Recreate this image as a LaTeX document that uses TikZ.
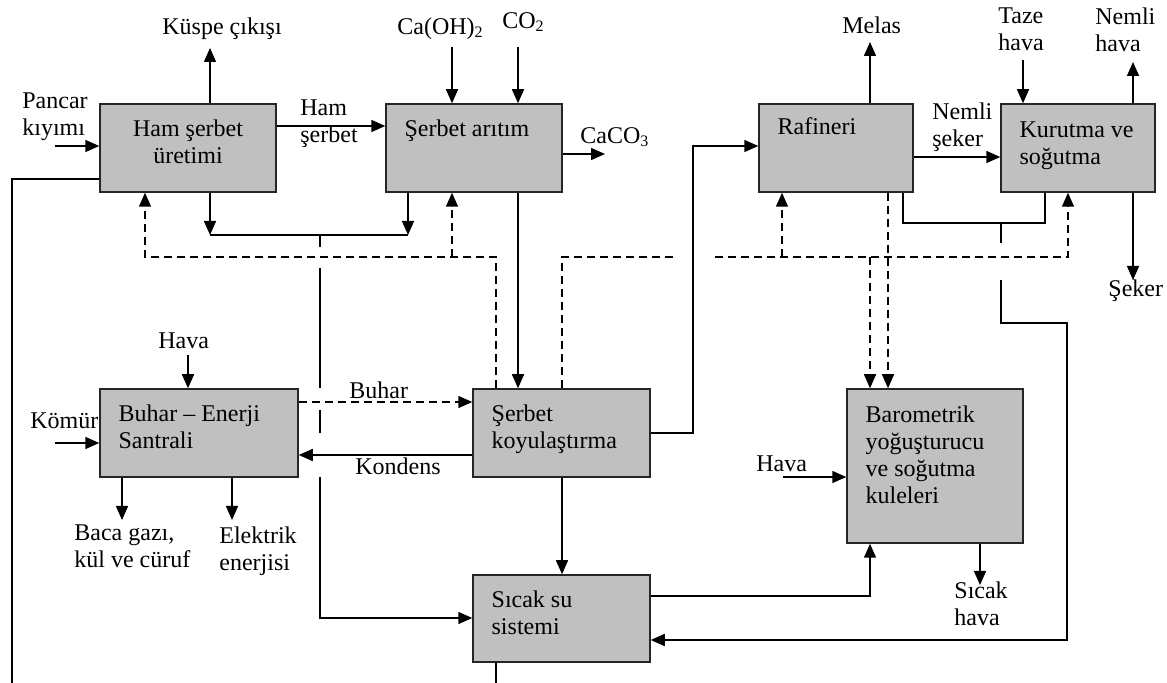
\documentclass[tikz,border=0pt]{standalone}
\usepackage{fontspec}
\setmainfont{Liberation Serif}
\usetikzlibrary{arrows.meta}
\definecolor{boxGray}{HTML}{C0C0C0}
\newcommand{\lineW}{0.75pt}
\tikzset{
  proc/.style={draw=black!85, fill=boxGray, line width=\lineW, inner sep=0pt},
  inLabel/.style={anchor=north west, inner sep=0pt, align=left, xshift=9.5pt, yshift=-8pt},
  txt/.style={anchor=north west, inner sep=0pt, align=left},
  flow/.style={line width=\lineW},
  arr/.style={line width=\lineW, -{Triangle[length=7pt,width=6pt]}},
  steam/.style={line width=\lineW, dash pattern=on 4pt off 2.5pt},
  steamArr/.style={steam, -{Triangle[length=7pt,width=6pt]}},
}

\begin{document}
\begin{tikzpicture}[x=0.5pt, y=-0.5pt, font=\fontsize{12}{13.5}\selectfont]
\useasboundingbox (0,0) rectangle (1167,683);

% process boxes
\node[proc, minimum width=88pt, minimum height=44pt,
  label={[inLabel, anchor=north, xshift=-9.5pt, align=center]north:{Ham şerbet\\üretimi}}] (hamSerbet) at (188,148) {};
\node[proc, minimum width=88pt, minimum height=44pt,
  label={[inLabel]north west:{Şerbet arıtım}}] (aritim) at (474,148) {};
\node[proc, minimum width=77pt, minimum height=44pt,
  label={[inLabel, yshift=1pt]north west:{Rafineri}}] (rafineri) at (836,148) {};
\node[proc, minimum width=77pt, minimum height=44pt,
  label={[inLabel, yshift=-1pt]north west:{Kurutma ve\\soğutma}}] (kurutma) at (1078,148) {};
\node[proc, minimum width=99pt, minimum height=44pt,
  label={[inLabel]north west:{Buhar -- Enerji\\Santrali}}] (santral) at (199,433) {};
\node[proc, minimum width=88.5pt, minimum height=44pt,
  label={[inLabel]north west:{Şerbet\\koyulaştırma}}] (koyulastirma) at (561.5,433) {};
\node[proc, minimum width=88.5pt, minimum height=43.5pt,
  label={[inLabel]north west:{Sıcak su\\sistemi}}] (sicakSu) at (561.5,618.5) {};
\node[proc, minimum width=88pt, minimum height=77pt,
  label={[inLabel, yshift=-0.5pt]north west:{Barometrik\\yoğuşturucu\\ve soğutma\\kuleleri}}] (barometrik) at (935,466) {};

% stream labels
\node[txt] (kuspe) at (162,17) {Küspe çıkışı};
\node[txt] (pancar) at (22,92) {Pancar\\kıyımı};
\node[txt] (hamLbl) at (300,99) {Ham\\şerbet};
\node[txt] (caoh) at (397,17) {Ca(OH)\textsubscript{2}};
\node[txt] (coIki) at (502,12) {CO\textsubscript{2}};
\node[txt] (caco) at (580,127) {CaCO\textsubscript{3}};
\node[txt] (melas) at (842,16) {Melas};
\node[txt] (tazeHava) at (998,7) {Taze\\hava};
\node[txt] (nemliHava) at (1095,7) {Nemli\\hava};
\node[txt] (nemliSeker) at (932,102) {Nemli\\şeker};
\node[txt] (seker) at (1108,279) {Şeker};
\node[txt] (havaSantral) at (158,332) {Hava};
\node[txt] (komur) at (30,412) {Kömür};
\node[txt] (buhar) at (349,381) {Buhar};
\node[txt] (kondens) at (355,457) {Kondens};
\node[txt] (baca) at (74,524) {Baca gazı,\\kül ve cüruf};
\node[txt] (elektrik) at (219,526) {Elektrik\\enerjisi};
\node[txt] (havaBaro) at (756,455) {Hava};
\node[txt] (sicakHava) at (954,581) {Sıcak\\hava};

% solid streams, top row
\draw[arr] (hamSerbet.north -| 210,0) -- (210,48);
\draw[arr] (55,146) -- (hamSerbet.west |- 0,146);
\draw[arr] (hamSerbet.east |- 0,126) -- (aritim.west |- 0,126);
\draw[arr] (452,47) -- (aritim.north -| 452,0);
\draw[arr] (518,47) -- (aritim.north -| 518,0);
\draw[arr] (aritim.east |- 0,154) -- (605,154);
\draw[arr] (hamSerbet.south -| 210,0) -- (210,235);
\draw[arr] (aritim.south -| 408,0) -- (408,235);
\draw[flow] (210,235) -- (408,235);
\draw[arr] (320,235) -- (320,247) (320,268) -- (320,388) (320,410) -- (320,433)
  (320,477) -- (320,618) -- (sicakSu.west |- 0,618);
\draw[flow] (hamSerbet.west |- 0,179) -- (12,179) -- (12,683);
\draw[arr] (aritim.south -| 518,0) -- (koyulastirma.north -| 518,0);
\draw[arr] (koyulastirma.east |- 0,433) -- (693,433) -- (693,146) -- (rafineri.west |- 0,146);
\draw[arr] (rafineri.north -| 870,0) -- (870,42);
\draw[arr] (rafineri.east |- 0,157) -- (kurutma.west |- 0,157);
\draw[arr] (1023,60) -- (kurutma.north -| 1023,0);
\draw[arr] (kurutma.north -| 1133,0) -- (1133,62);
\draw[arr] (kurutma.south -| 1133,0) -- (1133,280);
\draw[flow] (rafineri.south -| 903,0) -- (903,223) -- (1045,223) -- (kurutma.south -| 1045,0);
\draw[arr] (1001,223) -- (1001,243) (1001,280) -- (1001,323) -- (1067,323) -- (1067,640)
  -- (sicakSu.east |- 0,640);

% solid streams, bottom row
\draw[arr] (188,355) -- (santral.north -| 188,0);
\draw[arr] (55,443) -- (santral.west |- 0,443);
\draw[arr] (santral.south -| 122,0) -- (122,520);
\draw[arr] (santral.south -| 232,0) -- (232,520);
\draw[arr] (koyulastirma.west |- 0,455) -- (santral.east |- 0,455);
\draw[arr] (koyulastirma.south -| 562,0) -- (sicakSu.north -| 562,0);
\draw[arr] (sicakSu.east |- 0,596) -- (870,596) -- (barometrik.south -| 870,0);
\draw[arr] (783,477) -- (barometrik.west |- 0,477);
\draw[arr] (barometrik.south -| 980,0) -- (980,585);
\draw[flow] (sicakSu.south -| 496,0) -- (496,683);

% steam lines (dashed)
\draw[steamArr] (santral.east |- 0,402) -- (koyulastirma.west |- 0,402);
\draw[steamArr] (koyulastirma.north -| 496,0) -- (496,257) -- (145,257) -- (hamSerbet.south -| 145,0);
\draw[steamArr] (452,257) -- (aritim.south -| 452,0);
\draw[steam] (koyulastirma.north -| 562,0) -- (562,257) -- (673,257);
\draw[steamArr] (715,257) -- (1068,257) -- (kurutma.south -| 1068,0);
\draw[steamArr] (782,257) -- (rafineri.south -| 782,0);
\draw[steamArr] (870,257) -- (barometrik.north -| 870,0);
\draw[steamArr] (rafineri.south -| 888,0) -- (barometrik.north -| 888,0);
\end{tikzpicture}
\end{document}
